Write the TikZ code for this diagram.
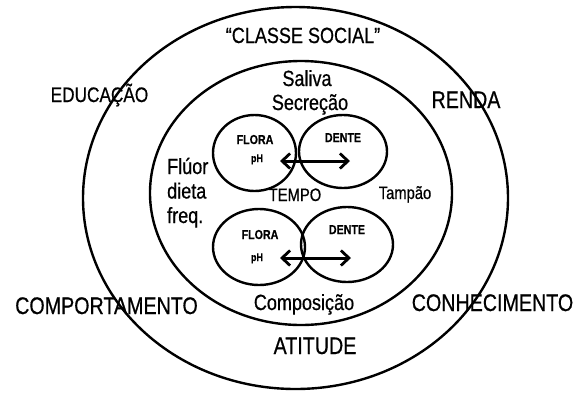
\documentclass[tikz,border=0pt]{standalone}
\usepackage{fontspec}
\setmainfont[FakeStretch=0.82,FakeBold=0.6]{Liberation Sans}
\usetikzlibrary{shapes.geometric,arrows.meta}
\begin{document}
\begin{tikzpicture}[x=1pt,y=-1pt,
  ring/.style={draw,ellipse,line width=2.4pt,inner sep=0pt},
  lbl/.style={anchor=base,inner sep=0pt},
  big/.style={font=\fontsize{24}{28}\selectfont},
  mid/.style={font=\fontsize{22}{26}\selectfont},
  sml/.style={font=\fontsize{18}{22}\selectfont},
  tiny/.style={font=\bfseries\fontsize{13}{15}\selectfont},
  tinier/.style={font=\bfseries\fontsize{11}{13}\selectfont},
  barb/.style={Straight Barb[length=8pt,width=15pt,line width=2.8pt]},
  dblarrow/.style={line width=3pt,{Straight Barb[length=8pt,width=15pt,line width=2.8pt]}-{Straight Barb[length=8pt,width=15pt,line width=2.8pt]}}]
\useasboundingbox (0,0) rectangle (587,392);
% rings
\node[ring,minimum width=425pt,minimum height=382pt] (outer) at (295.5,198) {};
\node[ring,minimum width=302pt,minimum height=264pt] (inner) at (301,193) {};
\node[ring,minimum width=83pt,minimum height=76pt] (tl) at (254.5,153) {};
\node[ring,minimum width=88pt,minimum height=73pt] (tr) at (343,151.5) {};
\node[ring,minimum width=92pt,minimum height=76pt] (bl) at (259,247) {};
\node[ring,minimum width=92pt,minimum height=75pt] (br) at (347,244.5) {};
% outer labels
\node[lbl,mid] (classe) at (303,43) {“CLASSE SOCIAL”};
\node[lbl,font=\fontsize{21}{25}\selectfont] (educ) at (99.5,102) {EDUCAÇÃO};
\node[lbl,big] (renda) at (466,108) {RENDA};
\node[lbl,big] (comp) at (106.5,314) {COMPORTAMENTO};
\node[lbl,big] (conh) at (492.5,311) {CONHECIMENTO};
\node[lbl,big] (atit) at (315,354) {ATITUDE};
% inner labels
\node[lbl,mid] (saliva) at (307,86) {Saliva};
\node[lbl,mid] (secr) at (310,110) {Secreção};
\node[lbl,mid] (compos) at (304,310) {Composição};
\node[lbl,mid,anchor=base west] (fl1) at (167,174) {Flúor};
\node[lbl,mid,anchor=base west] (fl2) at (167,198.5) {dieta};
\node[lbl,mid,anchor=base west] (fl3) at (167,223) {freq.};
\node[lbl,sml] (tempo) at (295,201) {TEMPO};
\node[lbl,sml] (tampao) at (405,199) {Tampão};
% circle labels
\node[lbl,tiny] (flora1) at (255,144) {FLORA};
\node[lbl,tinier] (ph1) at (257,162) {pH};
\node[lbl,tiny] (dente1) at (343,142) {DENTE};
\node[lbl,tiny] (flora2) at (260,239) {FLORA};
\node[lbl,tinier] (ph2) at (257,261) {pH};
\node[lbl,tiny] (dente2) at (347,234) {DENTE};
% arrows
\coordinate (a1) at (280,161);
\coordinate (a2) at (350,161);
\coordinate (b1) at (280,258);
\coordinate (b2) at (351,258);
\draw[dblarrow] (a1) -- (a2);
\draw[dblarrow] (b1) -- (b2);
\end{tikzpicture}
\end{document}
